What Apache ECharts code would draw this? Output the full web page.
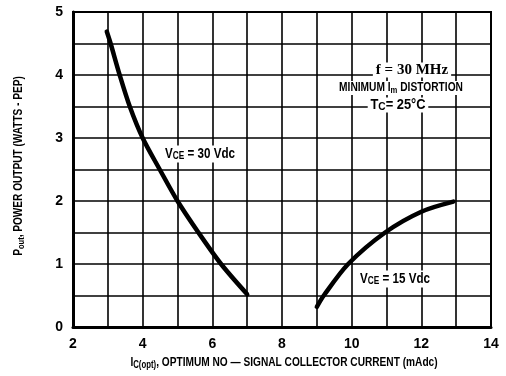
<!DOCTYPE html>
<html><head><meta charset="utf-8">
<script src="https://cdn.jsdelivr.net/npm/echarts@6/dist/echarts.min.js"></script>
<style>html,body{margin:0;padding:0;background:#fff}#c{width:506px;height:376px}</style>
</head><body><div id="c"></div>
<script>
var FONT = '"Liberation Sans",Arial,sans-serif';
// Vce = 30 Vdc curve: Ic (mAdc), Pout (W)
var ic30 = [2.97, 3.08, 3.34, 3.63, 4.0, 4.49, 5.0, 5.6, 6.25, 7.0];
var p30  = [4.69, 4.50, 4.00, 3.50, 3.00, 2.50, 2.00, 1.50, 1.00, 0.52];
// Vce = 15 Vdc curve
var ic15 = [9.0, 9.2, 9.9, 10.96, 12.0, 12.92];
var p15  = [0.32, 0.50, 1.00, 1.50, 1.83, 1.99];
var xTicks = [2, 4, 6, 8, 10, 12, 14];
var yTicks = [0, 1, 2, 3, 4, 5];

function pairs(a, b) { return a.map(function (v, i) { return [v, b[i]]; }); }
function rich(main, sub, subPad) {
  return {
    s: { fontFamily: FONT, fontWeight: 'bold', fontSize: main, fill: '#000' },
    sub: { fontFamily: FONT, fontWeight: 'bold', fontSize: sub, fill: '#000', padding: [subPad, 0, 0, 0] }
  };
}
function label(txt, x, y, main, sub, subPad, sx, extra) {
  var st = { text: txt, align: 'center', verticalAlign: 'middle', rich: rich(main, sub, subPad) };
  if (extra) for (var k in extra) st[k] = extra[k];
  return { type: 'text', x: x, y: y, scaleX: sx, z: 10, style: st };
}

var chart = echarts.init(document.getElementById('c'));
chart.setOption({
  animation: false,
  backgroundColor: '#fff',
  grid: { left: 73, right: 15, top: 12, bottom: 49, show: true, borderColor: '#000', borderWidth: 2 },
  xAxis: {
    type: 'value', min: 2, max: 14, interval: 1,
    axisLine: { show: true, lineStyle: { color: '#000', width: 3 } },
    axisTick: { show: false },
    splitLine: { show: true, lineStyle: { color: '#000', width: 1.6 } },
    axisLabel: { color: '#000', fontFamily: FONT, fontWeight: 'bold', fontSize: 14, margin: 10,
      formatter: function (v) { return xTicks.indexOf(v) >= 0 ? String(v) : ''; } }
  },
  yAxis: {
    type: 'value', min: 0, max: 5, interval: 0.5,
    axisLine: { show: true, lineStyle: { color: '#000', width: 3 } },
    axisTick: { show: false },
    splitLine: { show: true, lineStyle: { color: '#000', width: 1.6 } },
    axisLabel: { color: '#000', fontFamily: FONT, fontWeight: 'bold', fontSize: 14, margin: 10,
      formatter: function (v) { return yTicks.indexOf(v) >= 0 ? String(v) : ''; } }
  },
  series: [
    { type: 'line', data: pairs(ic30, p30), smooth: 0.3, symbol: 'none',
      lineStyle: { color: '#000', width: 4.5, cap: 'round' } },
    { type: 'line', data: pairs(ic15, p15), smooth: 0.3, symbol: 'none',
      lineStyle: { color: '#000', width: 4.5, cap: 'round' } }
  ],
  graphic: [
    // axis titles
    label('{s|I}{sub|C(opt)}{s|, OPTIMUM NO — SIGNAL COLLECTOR CURRENT (mAdc)}', 284, 362, 13, 10, 6, 0.78),
    (function () { var g = label('{s|P}{sub|out}{s|, POWER OUTPUT (WATTS - PEP)}', 19, 166, 12, 9, 6, 0.84);
      g.rotation = Math.PI / 2; return g; })(),
    // annotations
    label('{s|V}{sub|CE}{s| = 30 Vdc}', 200, 154, 14, 10, 5, 0.83, { backgroundColor: '#fff', padding: [1, 4] }),
    label('{s|V}{sub|CE}{s| = 15 Vdc}', 395, 279, 14, 10, 5, 0.83, { backgroundColor: '#fff', padding: [1, 4] }),
    { type: 'text', x: 412, y: 70, z: 10, style: {
        text: 'f = 30 MHz', align: 'center', verticalAlign: 'middle', backgroundColor: '#fff', padding: [0, 3],
        font: 'bold 15px "Liberation Serif","DejaVu Serif",serif', fill: '#000' } },
    label('{s|MINIMUM I}{sub|m}{s| DISTORTION}', 401, 88, 12, 9, 5, 0.85, { backgroundColor: '#fff', padding: [0, 2] }),
    label('{s|T}{sub|C}{s|= 25°C}', 398, 105, 14, 11, 4, 0.92, { backgroundColor: '#fff', padding: [0, 3] })
  ]
});
</script></body></html>
